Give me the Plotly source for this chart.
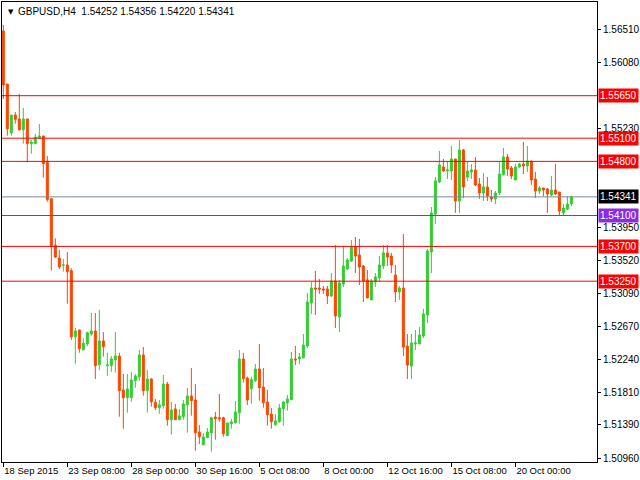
import plotly.graph_objects as go

# ---- data (GBPUSD, H4) ----
opens = [1.56487,1.55801,1.55171,1.55400,1.55349,1.55210,1.55349,1.55029,1.55029,1.55103,
         1.55129,1.54788,1.54318,1.53715,1.53550,1.53456,1.53460,1.53386,1.52532,1.52619,
         1.52360,1.52438,1.52567,1.52606,1.52170,1.52477,1.52157,1.52157,1.52231,1.52283,
         1.51843,1.51743,1.51743,1.51963,1.52015,1.52296,1.51834,1.51985,1.51684,1.51614,
         1.51640,1.51920,1.51458,1.51597,1.51458,1.51497,1.51653,1.51765,1.51713,1.51299,
         1.51135,1.51226,1.51290,1.51493,1.51484,1.51484,1.51252,1.51407,1.51420,1.51549,
         1.52244,1.51998,1.51860,1.51963,1.52114,1.51882,1.51687,1.51532,1.51394,1.51433,
         1.51601,1.51678,1.51717,1.52244,1.52244,1.52257,1.52412,1.52968,1.53162,1.53162,
         1.53149,1.53149,1.53059,1.53253,1.52787,1.53214,1.53408,1.53512,1.53693,1.53589,
         1.53447,1.53266,1.53007,1.53240,1.53292,1.53447,1.53615,1.53576,1.53330,1.53111,
         1.53162,1.52412,1.52153,1.52438,1.52438,1.52541,1.52813,1.53628,1.54120,1.54534,
         1.54728,1.54676,1.54676,1.54831,1.54288,1.54948,1.54598,1.54663,1.54689,1.54508,
         1.54391,1.54469,1.54340,1.54314,1.54391,1.54624,1.54857,1.54715,1.54559,1.54728,
         1.54766,1.54741,1.54805,1.54572,1.54417,1.54456,1.54443,1.54365,1.54430,1.54404,
         1.54133,1.54184,1.54252]
highs = [1.56565,1.55801,1.55400,1.55439,1.55672,1.55491,1.55349,1.55077,1.55155,1.55284,
         1.55129,1.54870,1.54318,1.53805,1.53654,1.53537,1.53628,1.53417,1.52645,1.52619,
         1.52512,1.52597,1.52839,1.52839,1.52878,1.52593,1.52325,1.52283,1.52593,1.52325,
         1.52050,1.52050,1.52076,1.52050,1.52360,1.52399,1.52101,1.51994,1.51726,1.51713,
         1.52037,1.51946,1.51687,1.51662,1.51597,1.51713,1.51869,1.52127,1.51920,1.51390,
         1.51286,1.51351,1.51497,1.51558,1.51791,1.51497,1.51416,1.51468,1.51700,1.52360,
         1.52321,1.52015,1.52015,1.52179,1.52438,1.52127,1.51843,1.51610,1.51532,1.51662,
         1.51700,1.51778,1.52334,1.52412,1.52321,1.52567,1.53098,1.53240,1.53382,1.53279,
         1.53188,1.53188,1.53356,1.53719,1.53266,1.53706,1.53550,1.53783,1.53822,1.53796,
         1.53460,1.53395,1.53279,1.53356,1.53576,1.53719,1.53719,1.53615,1.53460,1.53188,
         1.53861,1.52567,1.52567,1.52619,1.52658,1.52891,1.53667,1.54210,1.54598,1.54935,
         1.54831,1.54805,1.54999,1.54831,1.55077,1.54961,1.54805,1.54766,1.54857,1.54585,
         1.54650,1.54598,1.54430,1.54417,1.54805,1.54973,1.54896,1.54741,1.54766,1.54780,
         1.55051,1.54999,1.54805,1.54663,1.54482,1.54456,1.54456,1.54611,1.54766,1.54404,
         1.54249,1.54352,1.54356]
lows = [1.55607,1.55133,1.55133,1.55288,1.55197,1.55029,1.54788,1.54900,1.55021,1.55090,
        1.54589,1.54279,1.53386,1.53550,1.53408,1.53373,1.52959,1.52490,1.52183,1.52325,
        1.52360,1.52412,1.52545,1.51985,1.52101,1.52274,1.52028,1.52079,1.52067,1.51497,
        1.51342,1.51549,1.51691,1.51872,1.51963,1.51769,1.51549,1.51627,1.51584,1.51536,
        1.51601,1.51381,1.51264,1.51458,1.51458,1.51458,1.51290,1.51510,1.51057,1.51144,
        1.51135,1.51226,1.51045,1.51200,1.51433,1.51239,1.51252,1.51342,1.51407,1.51407,
        1.51937,1.51649,1.51665,1.51950,1.51704,1.51614,1.51381,1.51342,1.51381,1.51420,
        1.51381,1.51575,1.51717,1.52166,1.52179,1.52257,1.52386,1.52826,1.52813,1.53085,
        1.53085,1.52955,1.53046,1.52645,1.52593,1.53175,1.53395,1.53499,1.53356,1.53201,
        1.52981,1.53033,1.53007,1.53175,1.53240,1.53408,1.53447,1.53356,1.52981,1.53007,
        1.52283,1.51985,1.51985,1.52360,1.52438,1.52515,1.52709,1.53356,1.53990,1.54521,
        1.54663,1.54572,1.54559,1.54133,1.54133,1.54327,1.54547,1.54572,1.54482,1.54314,
        1.54288,1.54288,1.54275,1.54249,1.54365,1.54624,1.54611,1.54572,1.54559,1.54715,
        1.54637,1.54663,1.54495,1.54327,1.54378,1.54352,1.54133,1.54352,1.54365,1.54094,
        1.54094,1.54171,1.54220]
closes = [1.55789,1.55223,1.55400,1.55345,1.55210,1.55349,1.55029,1.55051,1.55112,1.55129,
          1.54770,1.54305,1.53706,1.53563,1.53434,1.53460,1.53373,1.52532,1.52606,1.52377,
          1.52447,1.52584,1.52606,1.52157,1.52477,1.52403,1.52166,1.52244,1.52283,1.51834,
          1.51743,1.51856,1.51972,1.52024,1.52296,1.51834,1.51985,1.51691,1.51614,1.51649,
          1.51920,1.51458,1.51584,1.51458,1.51506,1.51662,1.51765,1.51704,1.51290,1.51239,
          1.51235,1.51299,1.51484,1.51471,1.51471,1.51277,1.51416,1.51429,1.51558,1.52244,
          1.51989,1.51713,1.51976,1.52114,1.51872,1.51678,1.51523,1.51433,1.51442,1.51610,
          1.51687,1.51726,1.52244,1.52231,1.52270,1.52425,1.52981,1.53162,1.53149,1.53149,
          1.53136,1.53059,1.53253,1.52800,1.53227,1.53447,1.53525,1.53693,1.53576,1.53434,
          1.53253,1.53033,1.53253,1.53305,1.53460,1.53615,1.53563,1.53460,1.53111,1.53162,
          1.52399,1.52166,1.52451,1.52451,1.52554,1.52826,1.53641,1.54133,1.54547,1.54754,
          1.54676,1.54689,1.54831,1.54288,1.54948,1.54469,1.54676,1.54689,1.54495,1.54391,
          1.54469,1.54352,1.54314,1.54391,1.54637,1.54857,1.54702,1.54611,1.54728,1.54766,
          1.54741,1.54805,1.54559,1.54417,1.54456,1.54430,1.54378,1.54430,1.54378,1.54158,
          1.54197,1.54249,1.54341]

bar_index = list(range(len(closes)))

x_tick_bars = [0, 16, 32, 48, 64, 80, 96, 112, 128]
x_tick_labels = ["18 Sep 2015", "23 Sep 08:00", "28 Sep 00:00", "30 Sep 16:00",
                 "5 Oct 08:00", "8 Oct 00:00", "12 Oct 16:00", "15 Oct 08:00", "20 Oct 00:00"]

# visible price-scale ticks (the others are covered by the level labels)
y_tick_values = [1.50960, 1.51390, 1.51810, 1.52240, 1.52670, 1.53090, 1.53520,
                 1.53950, 1.55230, 1.56080, 1.56510]
y_tick_labels = ["1.50960", "1.51390", "1.51810", "1.52240", "1.52670", "1.53090", "1.53520",
                 "1.53950", "1.55230", "1.56080", "1.56510"]

level_prices = [1.55650, 1.55100, 1.54800, 1.54100, 1.53700, 1.53250]
level_colors = ["#FF0000", "#FF0000", "#FF0000", "#8A2BE2", "#FF0000", "#FF0000"]

symbol = "GBPUSD,H4"
last_ohlc = [1.54252, 1.54356, 1.54220, 1.54341]
current_price = last_ohlc[3]

BULL = "#32CD32"
BEAR = "#FF4500"
FONT = "Liberation Sans"

fig = go.Figure()
fig.add_trace(go.Candlestick(
    x=bar_index, open=opens, high=highs, low=lows, close=closes,
    increasing=dict(line=dict(color=BULL, width=1), fillcolor=BULL),
    decreasing=dict(line=dict(color=BEAR, width=1), fillcolor=BEAR),
    whiskerwidth=0, hoverinfo="skip", showlegend=False,
))

shapes = []
annotations = []
for p, c in zip(level_prices, level_colors):
    shapes.append(dict(type="line", xref="paper", yref="y", x0=0, x1=1, y0=p, y1=p,
                       line=dict(color=c, width=1), layer="above"))
    annotations.append(dict(xref="paper", yref="y", x=1, y=p, xanchor="left", yanchor="middle",
                            xshift=1, text="%.5f" % p, showarrow=False, bgcolor=c,
                            font=dict(family=FONT, size=10, color="white"), borderpad=1))
shapes.append(dict(type="line", xref="paper", yref="y", x0=0, x1=1, y0=current_price, y1=current_price,
                   line=dict(color="#778899", width=1), layer="above"))
annotations.append(dict(xref="paper", yref="y", x=1, y=current_price, xanchor="left", yanchor="middle",
                        xshift=1, text="%.5f" % current_price, showarrow=False, bgcolor="black",
                        font=dict(family=FONT, size=10, color="white"), borderpad=1))

# header
annotations.append(dict(xref="paper", yref="paper", x=0, y=1, xanchor="left", yanchor="top",
                        xshift=4, yshift=-4, text="\u25BC", showarrow=False,
                        font=dict(family="DejaVu Sans", size=7, color="black")))
annotations.append(dict(xref="paper", yref="paper", x=0, y=1, xanchor="left", yanchor="top",
                        xshift=14, yshift=-2,
                        text=symbol + "\u00a0\u00a0" + " ".join("%.5f" % v for v in last_ohlc),
                        showarrow=False, font=dict(family=FONT, size=10, color="black")))

fig.update_layout(
    width=640, height=480,
    margin=dict(l=2, r=43, t=2, b=18, autoexpand=False),
    paper_bgcolor="white", plot_bgcolor="white",
    showlegend=False,
    boxgap=0.5, boxgroupgap=0,
    shapes=shapes, annotations=annotations,
    font=dict(family=FONT, size=10, color="black"),
    xaxis=dict(range=[-0.33, 148.4], rangeslider=dict(visible=False), showgrid=False,
               zeroline=False, showline=True, mirror=True, linecolor="black", linewidth=1,
               tickmode="array", tickvals=x_tick_bars, ticktext=x_tick_labels,
               ticks="outside", ticklen=4, tickcolor="black", tickangle=0, automargin=False,
               ticklabelposition="outside right",
               tickfont=dict(family=FONT, size=9.5, color="black")),
    yaxis=dict(range=[1.50911, 1.56862], side="right", showgrid=False, zeroline=False,
               showline=True, mirror=True, linecolor="black", linewidth=1, automargin=False,
               tickmode="array", tickvals=y_tick_values, ticktext=y_tick_labels,
               ticks="outside", ticklen=3, tickcolor="black",
               tickfont=dict(family=FONT, size=10, color="black")),
)

fig.write_html("out.html")
